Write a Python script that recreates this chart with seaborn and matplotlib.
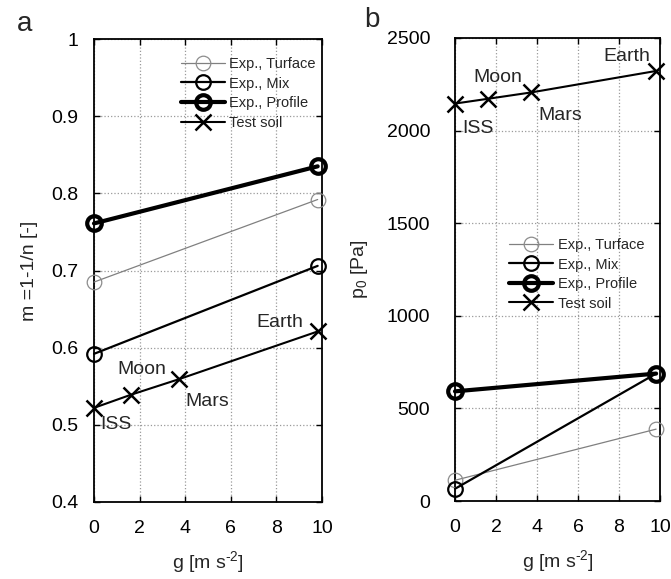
import matplotlib
matplotlib.use("Agg")
import matplotlib.pyplot as plt
import seaborn as sns
import pandas as pd

# gravity levels and fitted van Genuchten parameters
g_exp = [0.0, 9.81]
g_soil = [0.0, 1.62, 3.71, 9.81]
bodies = ["ISS", "Moon", "Mars", "Earth"]

m_turface = [0.685, 0.792]
m_mix = [0.592, 0.706]
m_profile = [0.761, 0.835]
m_soil = [0.522, 0.539, 0.559, 0.621]

p_turface = [112, 388]
p_mix = [66, 688]
p_profile = [592, 688]
p_soil = [2146, 2172, 2206, 2322]

series_names = ["Exp., Turface", "Exp., Mix", "Exp., Profile", "Test soil"]

sns.set_theme(style="white")
plt.rcParams["font.family"] = ["Liberation Sans", "DejaVu Sans"]
plt.rcParams["mathtext.fontset"] = "custom"
plt.rcParams["mathtext.rm"] = "Liberation Sans"
plt.rcParams["mathtext.it"] = "Liberation Sans"

FS = 14

styles = {
    "Exp., Turface": dict(color="#808080", lw=0.9, marker="o", ms=10.5,
                          mec="#8c8c8c", mew=0.9),
    "Exp., Mix": dict(color="black", lw=1.6, marker="o", ms=10.5,
                      mec="black", mew=1.6),
    "Exp., Profile": dict(color="black", lw=3.0, marker="o", ms=10.5,
                          mec="black", mew=3.0),
    "Test soil": dict(color="black", lw=1.5, marker="x", ms=11,
                      mec="black", mew=1.8),
}


def draw_series(ax, x, y, name):
    st = styles[name]
    df = pd.DataFrame({"g": x, "v": y})
    sns.lineplot(data=df, x="g", y="v", ax=ax, label=name, sort=False,
                 color=st["color"], linewidth=st["lw"], marker=st["marker"],
                 markersize=st["ms"], markerfacecolor="none",
                 markeredgecolor=st["mec"], markeredgewidth=st["mew"],
                 clip_on=False, zorder=3)


def style_axes(ax, ypad):
    ax.grid(True, linestyle=":", color="#9a9a9a", linewidth=0.9)
    for s in ax.spines.values():
        s.set_color("black")
        s.set_linewidth(1.3)
        s.set_visible(True)
    ax.tick_params(direction="in", length=4.5, width=1.0, top=True,
                   right=True, bottom=True, left=True, colors="black",
                   labelsize=FS)
    ax.tick_params(axis="y", pad=ypad)
    ax.tick_params(axis="x", pad=13)
    ax.set_xlim(0, 10)
    ax.set_xticks([0, 2, 4, 6, 8, 10])
    ax.set_xlabel(r"g [m s$^{\text{-2}}$]", fontsize=FS, labelpad=9)


fig = plt.figure(figsize=(6.71, 5.79), dpi=100)
ax_a = fig.add_axes([94 / 671, 77 / 579, 228 / 671, 463 / 579])
ax_b = fig.add_axes([455 / 671, 78 / 579, 205 / 671, 463 / 579])

# panel a: shape parameter m
draw_series(ax_a, g_exp, m_turface, "Exp., Turface")
draw_series(ax_a, g_exp, m_mix, "Exp., Mix")
draw_series(ax_a, g_exp, m_profile, "Exp., Profile")
draw_series(ax_a, g_soil, m_soil, "Test soil")
style_axes(ax_a, 11)
ax_a.set_ylim(0.4, 1.0)
ax_a.set_yticks([0.4, 0.5, 0.6, 0.7, 0.8, 0.9, 1.0])
ax_a.set_yticklabels(["0.4", "0.5", "0.6", "0.7", "0.8", "0.9", "1"])
ax_a.set_ylabel("m =1-1/n [-]", fontsize=FS, labelpad=10)

offs_a = {"ISS": (6, -17, "left"), "Moon": (-14, 25, "left"),
          "Mars": (7, -22, "left"), "Earth": (-14, 9, "right")}
for gx, val, name in zip(g_soil, m_soil, bodies):
    dx, dy, ha = offs_a[name]
    ax_a.annotate(name, (gx, val), xytext=(dx, dy), textcoords="offset pixels",
                  ha=ha, va="center", fontsize=FS)

ax_a.legend(loc="upper left", bbox_to_anchor=(0.345, 0.98), frameon=False,
            fontsize=10.5, handlelength=3.0, handletextpad=0.25,
            labelspacing=0.38, borderaxespad=0.2)

# panel b: air-entry pressure p0
draw_series(ax_b, g_exp, p_turface, "Exp., Turface")
draw_series(ax_b, g_exp, p_mix, "Exp., Mix")
draw_series(ax_b, g_exp, p_profile, "Exp., Profile")
draw_series(ax_b, g_soil, p_soil, "Test soil")
style_axes(ax_b, 18)
ax_b.set_ylim(0, 2500)
ax_b.set_yticks([0, 500, 1000, 1500, 2000, 2500])
ax_b.set_ylabel("p$_0$ [Pa]", fontsize=FS, labelpad=12)

offs_b = {"ISS": (7, -25, "left"), "Moon": (-15, 21, "left"),
          "Mars": (7, -23, "left"), "Earth": (-6, 14, "right")}
for gx, val, name in zip(g_soil, p_soil, bodies):
    dx, dy, ha = offs_b[name]
    ax_b.annotate(name, (gx, val), xytext=(dx, dy), textcoords="offset pixels",
                  ha=ha, va="center", fontsize=FS)

ax_b.legend(loc="upper left", bbox_to_anchor=(0.22, 0.587), frameon=False,
            fontsize=10.5, handlelength=3.0, handletextpad=0.4,
            labelspacing=0.38, borderaxespad=0.2)

fig.text(17 / 671, 1 - 24 / 579, "a", fontsize=20, ha="left", va="center")
fig.text(364 / 671, 1 - 20 / 579, "b", fontsize=20, ha="left", va="center")

fig.savefig("out.png", dpi=100)
